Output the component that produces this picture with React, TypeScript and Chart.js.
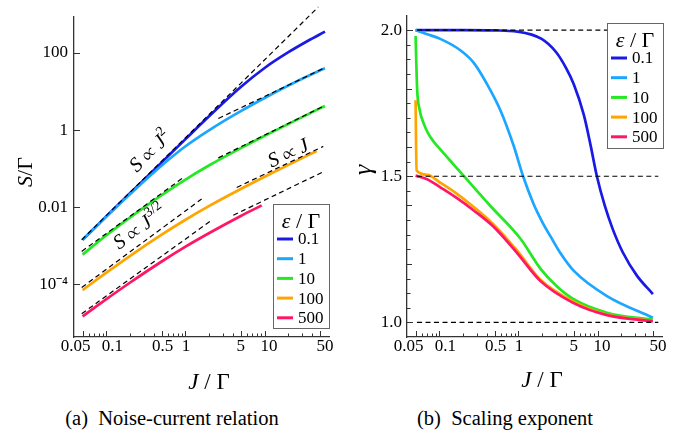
import React, { useEffect, useRef } from 'react';
import { Chart, registerables } from 'chart.js';
Chart.register(...registerables);

const SERIF = '"Liberation Serif", "Times New Roman", Times, Tinos, "Nimbus Roman", "FreeSerif", "DejaVu Serif", "Noto Serif", serif';

// ---------- legend / series ----------
const epsLabels = ['0.1', '1', '10', '100', '500'];
const seriesColors = ['#1a1ae6', '#1ba6ff', '#23e823', '#ffa500', '#ff1667'];

// ---------- panel (a): noise S/Γ vs J/Γ ----------
const noiseJEps01 = [0.05, 0.1, 0.2, 0.5, 1, 2, 5, 10, 20, 35, 58];
const noiseEps01 = [1.416e-3, 5.8e-3, 0.0232, 0.145, 0.582, 2.31, 13.1, 40.8, 104.5, 204, 357];
const noiseJ = [0.05, 0.1, 0.2, 0.5, 1, 2, 5, 10, 20, 50, 58];
const noiseEps1 = [1.416e-3, 5.7e-3, 0.0219, 0.12, 0.38, 1.0, 3.1, 6.8, 14.3, 35, 40];
const noiseEps10 = [5.86e-4, 1.86e-3, 5.42e-3, 0.0205, 0.052, 0.122, 0.341, 0.708, 1.44, 3.65, 4.23];
const noiseJEps100 = [0.05, 0.1, 0.2, 0.5, 1, 2, 5, 10, 20, 45.6];
const noiseEps100 = [7.06e-5, 2.0e-4, 5.47e-4, 1.93e-3, 4.72e-3, 0.0108, 0.0296, 0.0612, 0.125, 0.286];
const noiseJEps500 = [0.05, 0.1, 0.2, 0.5, 1, 2, 5, 9.2];
const noiseEps500 = [1.47e-5, 4.11e-5, 1.11e-4, 3.89e-4, 9.46e-4, 2.14e-3, 5.91e-3, 0.01114];

// asymptotes (dashed)  [J0, J1], [S0, S1]
const asymJ2J = [0.0487, 47.7];
const asymJ2S = [1.416e-3, 1553];
const asymLin1J = [2.6, 58];
const asymLin1S = [1.99, 41.6];
const asym32Eps10J = [0.0487, 0.938];
const asym32Eps10S = [7.11e-4, 0.0585];
const asymLin10J = [2.6, 58];
const asymLin10S = [0.1895, 4.35];
const asym32Eps100J = [0.0487, 1.6];
const asym32Eps100S = [8.22e-5, 0.0163];
const asymLin100J = [4.44, 55.2];
const asymLin100S = [0.0325, 0.377];
const asym32Eps500J = [0.0487, 2.14];
const asym32Eps500S = [1.72e-5, 4.58e-3];
const asymLin500J = [4.02, 58];
const asymLin500S = [6.15e-3, 0.0867];

// annotation anchors (J, S, angle)
const annJ2 = [0.356, 0.29, -44];
const annJ32 = [0.262, 0.0031, -36];
const annJ1 = [19.8, 0.26, -25];

// ---------- panel (b): exponent γ vs J/Γ ----------
const gammaJEps01 = [0.05, 0.2, 0.5, 0.97, 1.96, 2.98, 4.0, 5.0, 6.7, 8.1, 9.8, 12.3, 15.5, 20.8, 31.4, 50];
const gammaEps01 = [2.0, 2.0, 1.999, 1.995, 1.97, 1.925, 1.87, 1.815, 1.71, 1.61, 1.5, 1.4, 1.32, 1.24, 1.16, 1.097];
const gammaJEps1 = [0.05, 0.07, 0.1026, 0.184, 0.272, 0.397, 0.592, 0.867, 1.144, 1.552, 1.984, 2.528, 3.483, 4.977, 13.14, 50];
const gammaEps1 = [2.0, 1.986, 1.97, 1.931, 1.888, 1.817, 1.725, 1.605, 1.5, 1.405, 1.345, 1.295, 1.232, 1.177, 1.09, 1.016];
const gammaJEps10 = [0.05, 0.0523, 0.056, 0.0634, 0.0727, 0.0848, 0.1026, 0.1375, 0.2126, 0.436, 1.055, 1.883, 3.0, 4.916, 13.14, 50];
const gammaEps10 = [1.98, 1.8, 1.73, 1.68, 1.645, 1.618, 1.592, 1.553, 1.495, 1.4, 1.287, 1.185, 1.125, 1.08, 1.033, 1.009];
const gammaJEps100 = [0.05, 0.0514, 0.0699, 0.1026, 0.1668, 0.2718, 0.4845, 0.956, 1.883, 4.977, 13.14, 50];
const gammaEps100 = [1.76, 1.52, 1.505, 1.478, 1.44, 1.395, 1.335, 1.246, 1.147, 1.071, 1.027, 1.005];
const gammaJEps500 = [0.05, 0.0699, 0.1026, 0.1668, 0.2718, 0.4845, 0.956, 1.883, 4.977, 13.14, 50];
const gammaEps500 = [1.502, 1.49, 1.462, 1.425, 1.383, 1.327, 1.238, 1.142, 1.066, 1.025, 1.004];
const refLevelJ = [0.052, 58.6];
const refLevels = [2.0, 1.5, 1.0];

// ---------- ticks ----------
const xMin = 0.03895;
const xMax = 65.2;
const xMajorTicks = [0.05, 0.1, 0.5, 1, 5, 10, 50];
const xMajorLabels = ['0.05', '0.1', '0.5', '1', '5', '10', '50'];
const xLabelShift = [-7, 6, 1, 0.5, 0, 4.5, 5];
const xMinorTicks = [0.06, 0.07, 0.08, 0.09, 0.2, 0.3, 0.4, 0.6, 0.7, 0.8, 0.9, 2, 3, 4, 6, 7, 8, 9, 20, 30, 40];
const noiseTicks = [1e-4, 1e-2, 1, 100];
const noiseTickLabels = ['10\u207B\u2074', '0.01', '1', '100'];
const gammaTicks = [1.0, 1.5, 2.0];
const gammaTickLabels = ['1.0', '1.5', '2.0'];
const gammaLongTicks = [1.2, 1.4, 1.6, 1.8];
const gammaMinorTicks = [1.05, 1.1, 1.15, 1.25, 1.3, 1.35, 1.45, 1.55, 1.65, 1.7, 1.75, 1.85, 1.9, 1.95];

type Part = { t: string; it?: boolean; sup?: boolean };

function drawRich(ctx: CanvasRenderingContext2D, parts: Part[], x: number, y: number, size: number, angle: number) {
  ctx.save();
  ctx.translate(x, y);
  ctx.rotate((angle * Math.PI) / 180);
  const fontOf = (p: Part) => `${p.it ? 'italic ' : ''}${p.sup ? Math.round(size * 0.68) : size}px ${SERIF}`;
  let w = 0;
  for (const p of parts) {
    ctx.font = fontOf(p);
    w += ctx.measureText(p.t).width;
  }
  let cx = -w / 2;
  ctx.textBaseline = 'alphabetic';
  ctx.textAlign = 'left';
  ctx.fillStyle = '#000';
  for (const p of parts) {
    ctx.font = fontOf(p);
    ctx.fillText(p.t, cx, p.sup ? size * 0.33 - size * 0.45 : size * 0.33);
    cx += ctx.measureText(p.t).width;
  }
  ctx.restore();
}

function line(J: number[], V: number[], color: string, width: number, dashed = false) {
  return {
    data: J.map((x, i) => ({ x, y: V[i] })),
    borderColor: color,
    backgroundColor: color,
    borderWidth: width,
    borderDash: dashed ? [5, 3.5] : [],
    pointRadius: 0,
    fill: false,
    tension: 0.4,
    cubicInterpolationMode: dashed ? 'default' : 'monotone',
    clip: dashed ? 12 : 4,
  };
}

function drawLegend(ctx: CanvasRenderingContext2D, x0: number, y0: number, w: number, h: number) {
  ctx.save();
  ctx.fillStyle = '#fff';
  ctx.fillRect(x0, y0, w, h);
  ctx.strokeStyle = '#666';
  ctx.lineWidth = 1;
  ctx.strokeRect(x0 + 0.5, y0 + 0.5, w, h);
  drawRich(ctx, [{ t: '\u03B5', it: true }, { t: '\u2005/\u2005' }, { t: '\u0393' }], x0 + w / 2, y0 + 17, 22, 0);
  epsLabels.forEach((lab, i) => {
    const yy = y0 + 35 + i * 19.7;
    ctx.strokeStyle = seriesColors[i];
    ctx.lineWidth = 3;
    ctx.beginPath();
    ctx.moveTo(x0 + 4, yy);
    ctx.lineTo(x0 + 20, yy);
    ctx.stroke();
    ctx.fillStyle = '#000';
    ctx.font = `17px ${SERIF}`;
    ctx.textBaseline = 'middle';
    ctx.textAlign = 'left';
    ctx.fillText(lab, x0 + 25, yy + 1);
  });
  ctx.restore();
}

function drawXAxisMarks(chart: any) {
  const ctx = chart.ctx as CanvasRenderingContext2D;
  const xs = chart.scales.x;
  const b = chart.chartArea.bottom;
  ctx.save();
  ctx.strokeStyle = '#333';
  ctx.lineWidth = 1;
  const tick = (v: number, len: number) => {
    const px = Math.round(xs.getPixelForValue(v)) + 0.5;
    ctx.beginPath();
    ctx.moveTo(px, b);
    ctx.lineTo(px, b - len);
    ctx.stroke();
  };
  xMajorTicks.forEach((v) => tick(v, 6));
  xMinorTicks.forEach((v) => tick(v, 3.5));
  ctx.fillStyle = '#000';
  ctx.font = `17px ${SERIF}`;
  ctx.textAlign = 'center';
  ctx.textBaseline = 'top';
  xMajorTicks.forEach((v, i) => {
    ctx.fillText(xMajorLabels[i], xs.getPixelForValue(v) + xLabelShift[i], b + 1);
  });
  ctx.restore();
}

function yTick(chart: any, v: number, len: number) {
  const ctx = chart.ctx as CanvasRenderingContext2D;
  const ys = chart.scales.y;
  const l = chart.chartArea.left;
  const py = Math.round(ys.getPixelForValue(v)) + 0.5;
  ctx.save();
  ctx.strokeStyle = '#333';
  ctx.lineWidth = 1;
  ctx.beginPath();
  ctx.moveTo(l, py);
  ctx.lineTo(l + len, py);
  ctx.stroke();
  ctx.restore();
}

const noisePlugin = {
  id: 'noiseDecor',
  afterDraw(chart: any) {
    const ctx = chart.ctx as CanvasRenderingContext2D;
    const xs = chart.scales.x;
    const ys = chart.scales.y;
    drawXAxisMarks(chart);
    noiseTicks.forEach((v) => yTick(chart, v, 6));
    const ann = (a: number[], parts: Part[]) =>
      drawRich(ctx, parts, xs.getPixelForValue(a[0]), ys.getPixelForValue(a[1]), 20.5, a[2]);
    ann(annJ2, [{ t: 'S', it: true }, { t: ' \u221D ' }, { t: 'J', it: true }, { t: '2', sup: true }]);
    ann(annJ32, [{ t: 'S', it: true }, { t: ' \u221D ' }, { t: 'J', it: true }, { t: '3/2', sup: true }]);
    ann(annJ1, [{ t: 'S', it: true }, { t: ' \u221D ' }, { t: 'J', it: true }]);
    drawRich(ctx, [{ t: 'S', it: true }, { t: '/' }, { t: '\u0393' }], 25, 172, 22, -90);
    drawRich(ctx, [{ t: 'J', it: true }, { t: '\u2005/\u2005' }, { t: '\u0393' }], 209, 381, 23, 0);
    drawLegend(ctx, 273, 204, 56, 124);
  },
};

const gammaPlugin = {
  id: 'gammaDecor',
  afterDraw(chart: any) {
    const ctx = chart.ctx as CanvasRenderingContext2D;
    drawXAxisMarks(chart);
    gammaTicks.forEach((v) => yTick(chart, v, 6));
    gammaLongTicks.forEach((v) => yTick(chart, v, 5));
    gammaMinorTicks.forEach((v) => yTick(chart, v, 3.5));
    drawRich(ctx, [{ t: '\u03B3', it: true }], 22, 170, 26, -90);
    drawRich(ctx, [{ t: 'J', it: true }, { t: '\u2005/\u2005' }, { t: '\u0393' }], 202, 379, 23, 0);
    drawLegend(ctx, 267, 23, 56, 125);
  },
};

const tickFont = { family: SERIF, size: 17 };
const borderOpts = { display: true, color: '#333', width: 1.3 };

function xScale() {
  return {
    type: 'logarithmic',
    min: xMin,
    max: xMax,
    afterBuildTicks: (s: any) => {
      s.ticks = xMajorTicks.map((v) => ({ value: v }));
    },
    afterFit: (s: any) => {
      s.height = 63;
    },
    ticks: { display: false },
    grid: { display: false, drawTicks: false },
    border: borderOpts,
  };
}

function noiseConfig(): any {
  const datasets = [
    line(asymJ2J, asymJ2S, '#000', 1.2, true),
    line(asymLin1J, asymLin1S, '#000', 1.2, true),
    line(asym32Eps10J, asym32Eps10S, '#000', 1.2, true),
    line(asymLin10J, asymLin10S, '#000', 1.2, true),
    line(asym32Eps100J, asym32Eps100S, '#000', 1.2, true),
    line(asymLin100J, asymLin100S, '#000', 1.2, true),
    line(asym32Eps500J, asym32Eps500S, '#000', 1.2, true),
    line(asymLin500J, asymLin500S, '#000', 1.2, true),
    line(noiseJEps500, noiseEps500, seriesColors[4], 2.7),
    line(noiseJEps100, noiseEps100, seriesColors[3], 2.7),
    line(noiseJ, noiseEps10, seriesColors[2], 2.7),
    line(noiseJ, noiseEps1, seriesColors[1], 2.7),
    line(noiseJEps01, noiseEps01, seriesColors[0], 2.7),
  ];
  return {
    type: 'line',
    data: { datasets },
    options: {
      responsive: false,
      animation: false,
      layout: { padding: { left: 0, right: 11, top: 11, bottom: 0 } },
      plugins: { legend: { display: false }, tooltip: { enabled: false } },
      scales: {
        x: xScale(),
        y: {
          type: 'logarithmic',
          min: 4.28e-6,
          max: 899,
          afterBuildTicks: (s: any) => {
            s.ticks = noiseTicks.map((v) => ({ value: v }));
          },
          afterFit: (s: any) => {
            s.width = 74;
          },
          ticks: {
            callback: (v: number) => {
              const i = noiseTicks.findIndex((t) => Math.abs(t - v) / t < 1e-6);
              return i >= 0 ? noiseTickLabels[i] : '';
            },
            font: tickFont,
            color: '#000',
            padding: 6,
            autoSkip: false,
          },
          grid: { display: false, drawTicks: false },
          border: borderOpts,
        },
      },
    },
    plugins: [noisePlugin],
  };
}

function gammaConfig(): any {
  const datasets = [
    ...refLevels.map((lv) => line(refLevelJ, [lv, lv], '#000', 1.2, true)),
    line(gammaJEps500, gammaEps500, seriesColors[4], 2.7),
    line(gammaJEps100, gammaEps100, seriesColors[3], 2.7),
    line(gammaJEps10, gammaEps10, seriesColors[2], 2.7),
    line(gammaJEps1, gammaEps1, seriesColors[1], 2.7),
    line(gammaJEps01, gammaEps01, seriesColors[0], 2.7),
  ];
  return {
    type: 'line',
    data: { datasets },
    options: {
      responsive: false,
      animation: false,
      layout: { padding: { left: 0, right: 21, top: 0, bottom: 0 } },
      plugins: { legend: { display: false }, tooltip: { enabled: false } },
      scales: {
        x: xScale(),
        y: {
          type: 'linear',
          min: 0.95,
          max: 2.051,
          afterBuildTicks: (s: any) => {
            s.ticks = gammaTicks.map((v) => ({ value: v }));
          },
          afterFit: (s: any) => {
            s.width = 67;
          },
          ticks: {
            callback: (v: number) => {
              const i = gammaTicks.findIndex((t) => Math.abs(t - v) < 1e-6);
              return i >= 0 ? gammaTickLabels[i] : '';
            },
            font: tickFont,
            color: '#000',
            padding: 5,
            autoSkip: false,
          },
          grid: { display: false, drawTicks: false },
          border: borderOpts,
        },
      },
    },
    plugins: [gammaPlugin],
  };
}

function Panel({ width, height, left, makeConfig }: { width: number; height: number; left: number; makeConfig: () => any }) {
  const ref = useRef<HTMLCanvasElement | null>(null);
  useEffect(() => {
    const chart = new Chart(ref.current as HTMLCanvasElement, makeConfig());
    return () => chart.destroy();
  }, []);
  return (
    <canvas
      ref={ref}
      width={width}
      height={height}
      style={{ position: 'absolute', left, top: 0, width, height, display: 'block' }}
    />
  );
}

const captionStyle: React.CSSProperties = {
  position: 'absolute',
  top: 406,
  textAlign: 'center',
  fontFamily: SERIF,
  fontSize: 20.5,
  lineHeight: '24px',
  color: '#000',
  whiteSpace: 'nowrap',
};

export default function App() {
  return (
    <div style={{ position: 'fixed', left: 0, top: 0, width: 683, height: 435, background: '#fff', overflow: 'hidden' }}>
      <Panel width={340} height={400} left={0} makeConfig={noiseConfig} />
      <Panel width={343} height={400} left={340} makeConfig={gammaConfig} />
      <div style={{ ...captionStyle, left: 0, width: 344 }}>(a)&ensp;Noise-current relation</div>
      <div style={{ ...captionStyle, left: 340, width: 330 }}>(b)&ensp;Scaling exponent</div>
    </div>
  );
}
